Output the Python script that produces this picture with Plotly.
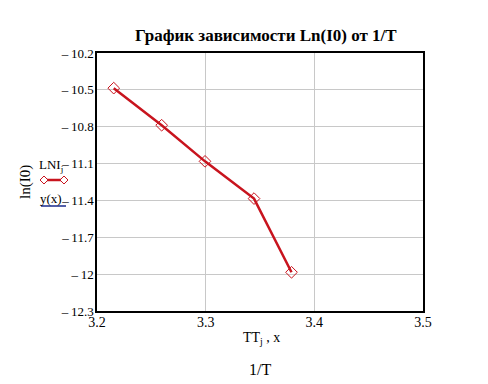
import plotly.graph_objects as go

# Data
inv_T = [3.2154, 3.2595, 3.2994, 3.3445, 3.3790]
ln_I0 = [-10.486, -10.788, -11.082, -11.385, -11.985]

x_ticks = [3.2, 3.3, 3.4, 3.5]
x_tick_text = ["3.2", "3.3", "3.4", "3.5"]
y_ticks = [-10.2, -10.5, -10.8, -11.1, -11.4, -11.7, -12.0, -12.3]
y_tick_text = ["–\u200910.2", "–\u200910.5", "–\u200910.8", "–\u200911.1",
               "–\u200911.4", "–\u200911.7", "–\u200912", "–\u200912.3"]

FONT = "Liberation Serif"
RED = "#c8141e"

fig = go.Figure()
fig.add_trace(go.Scatter(
    x=inv_T, y=ln_I0, mode="lines+markers",
    line=dict(color=RED, width=2.5),
    marker=dict(symbol="diamond-open", size=9, color=RED, line=dict(width=1)),
    showlegend=False,
))

W, H = 488, 384
L, R, T, B = 97, 65, 53, 73
pw, ph = W - L - R, H - T - B

def px(x):
    return (x - L) / pw

def py(y):
    return (H - B - y) / ph

annotations = [
    dict(text="<b>График зависимости Ln(I0) от 1/T</b>", x=px(266), y=py(35),
         font=dict(size=17, family=FONT, color="black")),
    dict(text="TT<sub>j</sub> , x", x=px(261), y=py(338),
         font=dict(size=14, family=FONT, color="black")),
    dict(text="1/T", x=px(260), y=py(369),
         font=dict(size=16, family=FONT, color="black")),
    dict(text="ln(I0)", x=px(25), y=py(182), textangle=-90,
         font=dict(size=15, family=FONT, color="black")),
    dict(text="LNI<sub>j</sub>", x=px(51), y=py(165),
         font=dict(size=13, family=FONT, color="black")),
    dict(text="y(x)", x=px(51), y=py(198),
         font=dict(size=13, family=FONT, color="black")),
]
for a in annotations:
    a.update(xref="paper", yref="paper", showarrow=False, xanchor="center", yanchor="middle")

shapes = [
    dict(type="line", xref="paper", yref="paper", x0=px(41), x1=px(66), y0=py(180), y1=py(180),
         line=dict(color=RED, width=2.5)),
    dict(type="line", xref="paper", yref="paper", x0=px(41), x1=px(66), y0=py(206), y1=py(206),
         line=dict(color="#1a2a8c", width=1.5)),
]
for cx in (44, 64):
    shapes.append(dict(type="path", xref="paper", yref="paper",
                       path=f"M {px(cx-4)} {py(180)} L {px(cx)} {py(176)} L {px(cx+4)} {py(180)} L {px(cx)} {py(184)} Z",
                       line=dict(color=RED, width=1), fillcolor="white"))

fig.update_layout(
    width=W, height=H,
    margin=dict(l=L, r=R, t=T, b=B),
    paper_bgcolor="white", plot_bgcolor="white",
    font=dict(family=FONT, size=14, color="black"),
    annotations=annotations,
    shapes=shapes,
    xaxis=dict(range=[3.2, 3.5], tickvals=x_ticks, ticktext=x_tick_text,
               showgrid=True, gridcolor="#c8c8c8", gridwidth=1,
               showline=True, linecolor="black", linewidth=1.5, mirror=True,
               ticks="", zeroline=False, tickfont=dict(size=14, family=FONT),
               ticklabelstandoff=-3),
    yaxis=dict(range=[-12.3, -10.2], tickvals=y_ticks, ticktext=y_tick_text,
               showgrid=True, gridcolor="#c8c8c8", gridwidth=1,
               showline=True, linecolor="black", linewidth=1.5, mirror=True,
               ticks="", zeroline=False, tickfont=dict(size=13, family=FONT),
               ticklabelstandoff=-1),
)

fig.write_html("out.html")
